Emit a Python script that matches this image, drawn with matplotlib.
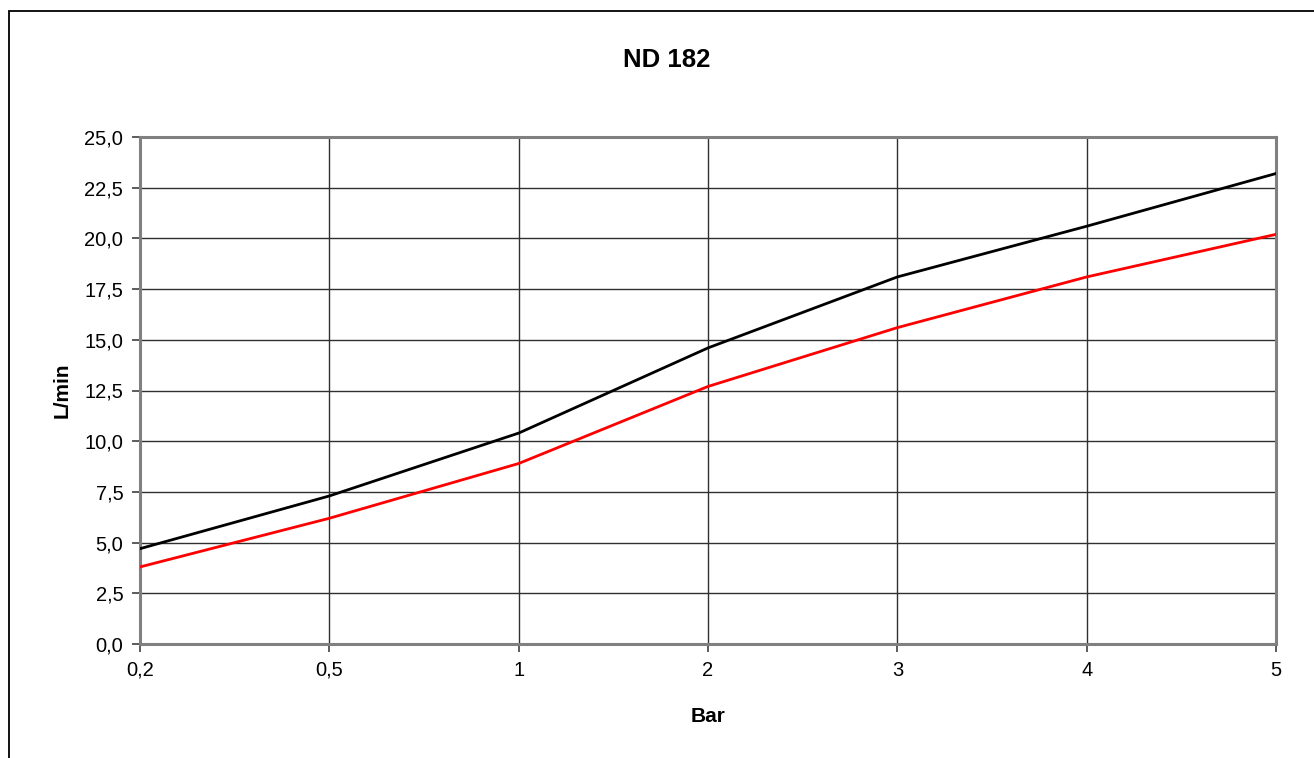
import matplotlib.pyplot as plt
from matplotlib.patches import Rectangle

# pressure steps (categorical, equally spaced on the x axis)
bar_labels = ["0,2", "0,5", "1", "2", "3", "4", "5"]
# flow for the two curves, L/min
flow_black = [4.7, 7.3, 10.4, 14.6, 18.1, 20.6, 23.2]
flow_red = [3.8, 6.2, 8.9, 12.7, 15.6, 18.1, 20.2]

y_ticks = [0, 2.5, 5, 7.5, 10, 12.5, 15, 17.5, 20, 22.5, 25]

plt.rcParams['font.family'] = ['Liberation Sans', 'DejaVu Sans']

fig = plt.figure(figsize=(13.14, 7.58), dpi=100)
ax = fig.add_axes([140/1314, 1-644/758, (1276-140)/1314, (644-137)/758])

# outer chart frame (cut at right/bottom like the original)
fig.patches.append(Rectangle((8.5/1314, -0.1), 1.2, 1-11/758+0.1, transform=fig.transFigure,
                             fill=False, edgecolor='black', linewidth=1.3))

x = list(range(len(bar_labels)))
ax.plot(x, flow_black, color='black', linewidth=2, zorder=3)
ax.plot(x, flow_red, color='#ff0000', linewidth=2, zorder=3)

ax.set_xlim(0, len(bar_labels)-1)
ax.set_ylim(0, 25)
ax.set_xticks(x)
ax.set_xticklabels(bar_labels)
ax.set_yticks(y_ticks)
ax.set_yticklabels([("%.1f" % v).replace('.', ',') for v in y_ticks])

ax.grid(True, color='#303030', linewidth=1)
ax.set_axisbelow(True)
for s in ax.spines.values():
    s.set_color('#808080')
    s.set_linewidth(2.2)
ax.tick_params(direction='out', length=6, width=1.2, color='#404040', labelsize=14.5, pad=6)

# title is centred on the chart frame, not the plot area
fig.text(667/1314, 1-60/758, "ND 182", fontsize=18.5, fontweight='bold', ha='center', va='center')
ax.set_xlabel("Bar", fontsize=15, fontweight='bold', labelpad=20)
ax.set_ylabel("L/min", fontsize=15, fontweight='bold', labelpad=9)

fig.savefig("out.png", dpi=100)
